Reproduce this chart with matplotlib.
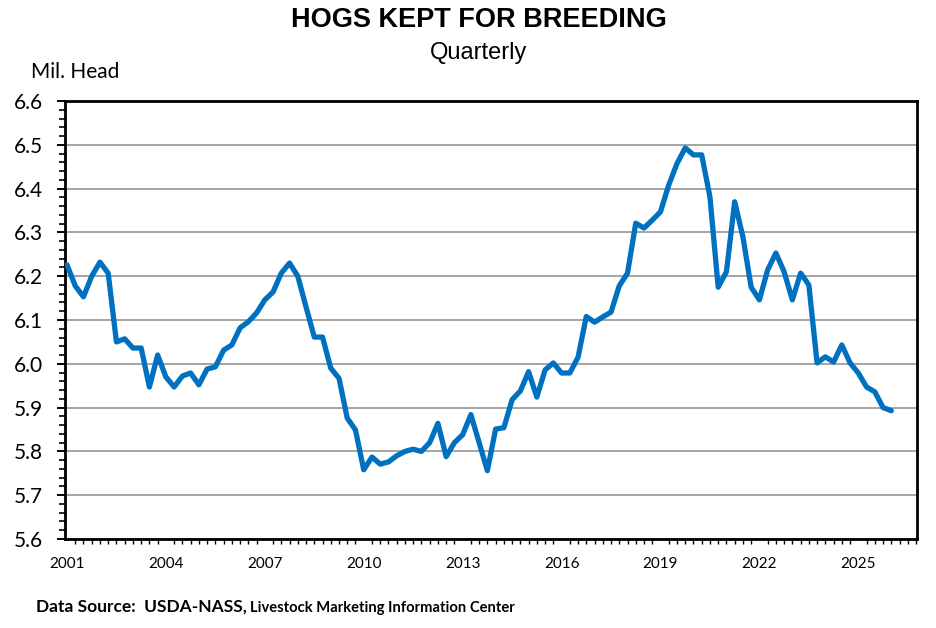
import numpy as np
import matplotlib
matplotlib.use("Agg")
import matplotlib.pyplot as plt
from matplotlib.ticker import MultipleLocator, FixedLocator

# quarterly breeding inventory, mil. head
first_year = 2001
breeding = [
    6.226, 6.178, 6.153, 6.200, 6.232, 6.207, 6.050, 6.057, 6.036, 6.036,
    5.947, 6.020, 5.970, 5.947, 5.972, 5.979, 5.952, 5.988, 5.993, 6.031,
    6.043, 6.082, 6.096, 6.116, 6.146, 6.164, 6.207, 6.230, 6.200, 6.130,
    6.061, 6.061, 5.990, 5.967, 5.876, 5.849, 5.758, 5.787, 5.771, 5.776,
    5.790, 5.800, 5.805, 5.800, 5.820, 5.864, 5.788, 5.820, 5.838, 5.884,
    5.820, 5.756, 5.851, 5.854, 5.918, 5.938, 5.982, 5.924, 5.986, 6.002,
    5.979, 5.979, 6.015, 6.108, 6.095, 6.107, 6.118, 6.178, 6.207, 6.321,
    6.310, 6.328, 6.347, 6.408, 6.457, 6.493, 6.477, 6.477, 6.381, 6.175,
    6.210, 6.370, 6.290, 6.175, 6.146, 6.214, 6.253, 6.210, 6.146, 6.207,
    6.180, 6.002, 6.016, 6.004, 6.043, 6.002, 5.979, 5.947, 5.936, 5.900,
    5.893,
]
year_labels = ["2001", "2004", "2007", "2010", "2013", "2016", "2019", "2022", "2025"]

x = first_year + np.arange(len(breeding)) / 4.0

fig = plt.figure(figsize=(9.36, 6.28), dpi=100)
ax = fig.add_axes([65/936, 1-539/628, (917-65)/936, (539-101)/628])

ax.plot(x, breeding, color="#0070C0", lw=3.8, solid_joinstyle="round",
        solid_capstyle="round", zorder=3)

ax.set_ylim(5.6, 6.6)
ax.set_xlim(2000.94, 2026.78)
ax.yaxis.set_major_locator(MultipleLocator(0.1))
ax.yaxis.set_minor_locator(MultipleLocator(0.02))
ax.yaxis.set_major_formatter(plt.FormatStrFormatter("%.1f"))
ax.grid(axis="y", which="major", color="#8c8c8c", lw=1.1, zorder=1)

ax.xaxis.set_major_locator(FixedLocator([int(y) for y in year_labels]))
ax.set_xticklabels(year_labels)
ax.xaxis.set_minor_locator(FixedLocator(first_year + np.arange(0, 104) / 4.0))

ax.tick_params(axis="y", which="major", direction="out", length=6, width=1.4,
               labelsize=15, pad=10)
ax.tick_params(axis="y", which="minor", direction="out", length=4.5, width=1.2)
ax.tick_params(axis="x", which="major", length=0, labelsize=11, pad=13)
ax.tick_params(axis="x", which="minor", direction="out", length=3.5, width=1.0)
for lab in ax.get_yticklabels() + ax.get_xticklabels():
    lab.set_family("Lato")

for s in ax.spines.values():
    s.set_linewidth(2.0)
    s.set_color("black")

fig.text(479/936, 0.968, "HOGS KEPT FOR BREEDING", ha="center", va="center",
         fontsize=19.5, fontweight="bold", family="Liberation Sans")
fig.text(479/936, 1-53/628, "Quarterly", ha="center", va="center",
         fontsize=17, family="Liberation Sans")
fig.text(31/936, 1-72/628, "Mil. Head", ha="left", va="center",
         fontsize=15, family="Lato")

fig.text(36/936, 1-612/628, "Data Source:  USDA-NASS,", ha="left", va="baseline",
         fontsize=12.5, fontweight="bold", family="Lato")
fig.text(250/936, 1-612/628, "Livestock Marketing Information Center", ha="left",
         va="baseline", fontsize=10.6, fontweight="bold", family="Lato")

fig.savefig("out.png", dpi=100)
